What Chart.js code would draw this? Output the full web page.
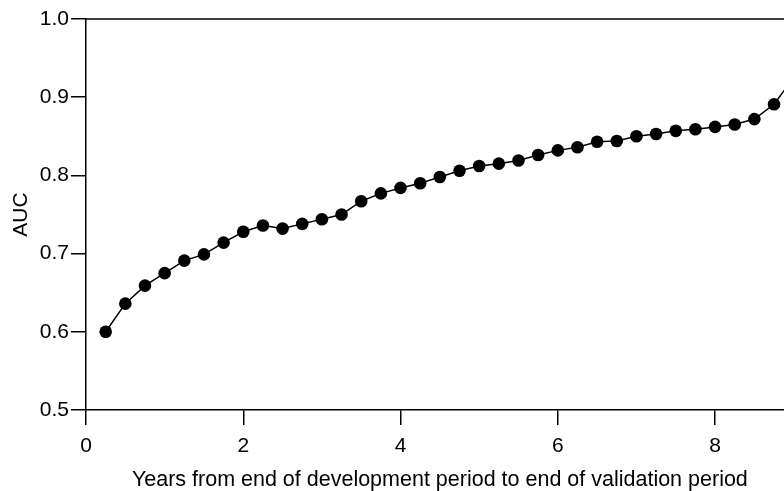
<!DOCTYPE html>
<html>
<head>
<meta charset="utf-8">
<script src="https://cdn.jsdelivr.net/npm/chart.js@4/dist/chart.umd.min.js"></script>
<style>
  html, body { margin: 0; padding: 0; background: #fff; overflow: hidden; }
  #wrap { width: 800px; height: 491px; }
</style>
</head>
<body>
<div id="wrap"><canvas id="c" width="800" height="491"></canvas></div>
<script>
// Years from end of development period to end of validation period
const years = [0.25, 0.5, 0.75, 1.0, 1.25, 1.5, 1.75, 2.0, 2.25, 2.5, 2.75, 3.0,
               3.25, 3.5, 3.75, 4.0, 4.25, 4.5, 4.75, 5.0, 5.25, 5.5, 5.75, 6.0,
               6.25, 6.5, 6.75, 7.0, 7.25, 7.5, 7.75, 8.0, 8.25, 8.5, 8.75, 9.0];
// Area under the ROC curve at each horizon
const auc = [0.600, 0.636, 0.659, 0.675, 0.691, 0.699, 0.714, 0.728, 0.736, 0.732, 0.738, 0.744,
             0.750, 0.767, 0.777, 0.784, 0.790, 0.798, 0.806, 0.812, 0.815, 0.819, 0.826, 0.832,
             0.836, 0.843, 0.844, 0.850, 0.853, 0.857, 0.859, 0.862, 0.865, 0.872, 0.891, 0.925];
const xTicks = [0, 2, 4, 6, 8];
const yTicks = [0.5, 0.6, 0.7, 0.8, 0.9, 1.0];

const FONT = "'Liberation Sans', Arial, sans-serif";

// top edge of the plot frame
const frameTop = {
  id: 'frameTop',
  afterDraw(chart) {
    const { ctx, chartArea } = chart;
    ctx.save();
    ctx.strokeStyle = '#000';
    ctx.lineWidth = 1.5;
    ctx.beginPath();
    ctx.moveTo(chartArea.left, chartArea.top);
    ctx.lineTo(chartArea.right, chartArea.top);
    ctx.stroke();
    ctx.restore();
  }
};

new Chart(document.getElementById('c'), {
  type: 'line',
  data: {
    datasets: [{
      data: years.map((x, i) => ({ x, y: auc[i] })),
      borderColor: '#000',
      borderWidth: 1.5,
      backgroundColor: '#000',
      pointRadius: 6.3,
      pointHoverRadius: 6.3,
      pointBackgroundColor: '#000',
      pointBorderColor: '#000',
      pointBorderWidth: 0,
      tension: 0,
      clip: false
    }]
  },
  options: {
    responsive: false,
    animation: false,
    layout: { padding: { top: 19, right: 4, left: 0, bottom: 0 } },
    plugins: { legend: { display: false }, tooltip: { enabled: false } },
    scales: {
      x: {
        type: 'linear',
        min: 0,
        max: 9,
        afterBuildTicks(scale) { scale.ticks = xTicks.map(v => ({ value: v })); },
        afterFit(scale) { scale.height = 81; },
        grid: { drawOnChartArea: false, drawTicks: true, tickLength: 15, color: '#000', lineWidth: 1.5 },
        border: { display: true, color: '#000', width: 1.5 },
        ticks: { color: '#000', padding: 9, font: { family: FONT, size: 21 }, maxRotation: 0 },
        title: {
          display: true,
          text: 'Years from end of development period to end of validation period',
          color: '#000',
          font: { family: FONT, size: 21.5 },
          padding: { top: 0, bottom: -2 }
        }
      },
      y: {
        type: 'linear',
        min: 0.5,
        max: 1.0,
        afterBuildTicks(scale) { scale.ticks = yTicks.map(v => ({ value: v })); },
        afterFit(scale) { scale.width = 86; },
        grid: { drawOnChartArea: false, drawTicks: true, tickLength: 15, color: '#000', lineWidth: 1.5 },
        border: { display: true, color: '#000', width: 1.5 },
        ticks: { color: '#000', padding: 2, font: { family: FONT, size: 21 }, callback: v => v.toFixed(1) },
        title: {
          display: true,
          text: 'AUC',
          color: '#000',
          font: { family: FONT, size: 21 },
          padding: { top: 9, bottom: 0 }
        }
      }
    }
  },
  plugins: [frameTop]
});
</script>
</body>
</html>
